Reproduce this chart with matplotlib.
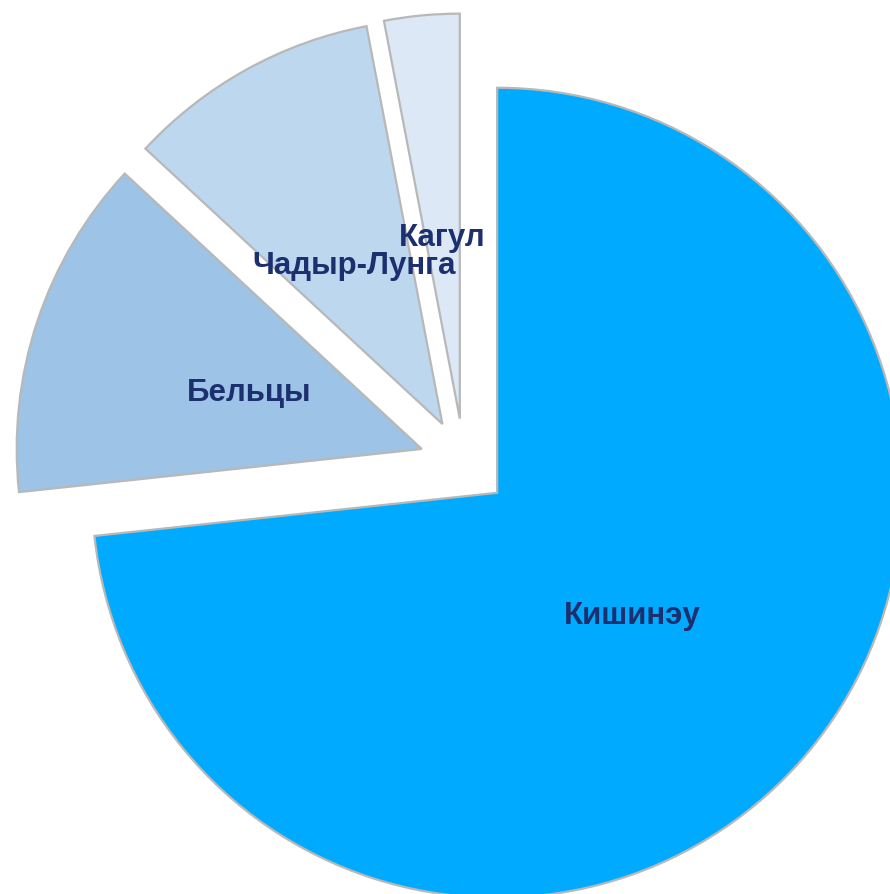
import matplotlib.pyplot as plt

plt.rcParams['font.family'] = ['Liberation Sans', 'DejaVu Sans']

# данные
cities = ['Кишинэу', 'Бельцы', 'Чадыр-Лунга', 'Кагул']
shares = [73.3, 13.6, 10.1, 3.0]
colors = ['#00aaff', '#9dc3e6', '#bdd7ee', '#dce8f5']
explode = [0.11, 0.11, 0.11, 0.11]

fig = plt.figure(figsize=(8.9, 8.95), dpi=100)
ax = fig.add_axes([0, 0, 1, 1])

wedges, texts = ax.pie(shares, labels=cities, colors=colors, explode=explode,
                       startangle=90, counterclock=False, labeldistance=0.45,
                       wedgeprops=dict(edgecolor='#b8b8b8', linewidth=1.6),
                       textprops=dict(ha='center', va='center', fontsize=22.5,
                                      fontweight='bold', color='#1c2f6e'))

ax.set_aspect('auto')
ax.set_xlim(-464 / 405, 426 / 405)
ax.set_ylim(-431 / 405, 464 / 405)
ax.axis('off')

fig.savefig('out.png', dpi=100)
